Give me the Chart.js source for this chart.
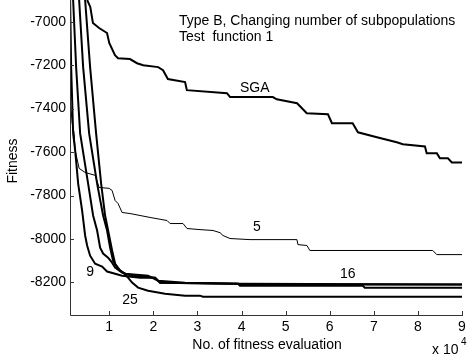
<!DOCTYPE html>
<html>
<head>
<meta charset="utf-8">
<script src="https://cdn.jsdelivr.net/npm/chart.js@4"></script>
<style>
html, body { margin: 0; padding: 0; background: #fff; }
#wrap { width: 470px; height: 356px; }
</style>
</head>
<body>
<div id="wrap"><canvas id="chart" width="470" height="356"></canvas></div>
<script>
// values in units of 10^4 evaluations / fitness
const xTicks = [1, 2, 3, 4, 5, 6, 7, 8, 9]
const yTicks = [-7000, -7200, -7400, -7600, -7800, -8000, -8200]

const sgaX = [0.50, 0.57, 0.63, 0.77, 0.95, 1.00, 1.13, 1.20, 1.47, 1.63, 1.77, 2.11, 2.22, 2.33, 2.72, 2.76, 3.67, 3.74, 4.71, 4.80, 5.26, 5.48, 5.96, 6.05, 6.52, 6.64, 7.07, 7.52, 7.66, 8.16, 8.20, 8.43, 8.50, 8.68, 8.77, 9.00]
const sgaY = [-6900, -6932, -7006, -7029, -7052, -7098, -7154, -7168, -7172, -7191, -7200, -7209, -7223, -7264, -7278, -7315, -7329, -7347, -7347, -7357, -7375, -7421, -7426, -7467, -7467, -7509, -7532, -7555, -7564, -7574, -7606, -7606, -7629, -7629, -7648, -7648]

const p5X = [0.113, 0.113, 0.159, 0.204, 0.227, 0.317, 0.453, 0.680, 0.770, 0.997, 1.065, 1.133, 1.201, 1.291, 1.473, 1.926, 2.311, 2.379, 2.673, 2.764, 3.058, 3.353, 3.512, 3.579, 3.738, 4.191, 5.256, 5.279, 5.483, 5.550, 8.337, 8.428, 9.0]
const p5Y = [-6900, -7348, -7467, -7514, -7592, -7675, -7694, -7707, -7763, -7767, -7777, -7823, -7837, -7878, -7883, -7901, -7915, -7929, -7929, -7952, -7957, -7961, -7971, -7984, -7998, -8003, -8003, -8026, -8030, -8053, -8053, -8072, -8072]

const p9X = [0.113, 0.136, 0.181, 0.227, 0.295, 0.385, 0.453, 0.498, 0.566, 0.680, 0.838, 0.951, 1.133, 1.291, 1.699, 2.039, 2.152, 3.919, 3.965, 9]
const p9Y = [-6900, -7209, -7514, -7592, -7745, -7870, -7984, -8030, -8077, -8114, -8127, -8150, -8160, -8169, -8178, -8178, -8201, -8206, -8210, -8210]

const p16X = [0.181, 0.249, 0.340, 0.521, 0.634, 0.725, 0.793, 0.861, 0.974, 1.065, 1.133, 1.291, 1.518, 2.039, 2.152, 3.919, 3.965, 6.751, 6.796, 9]
const p16Y = [-6900, -7209, -7514, -7745, -7892, -7961, -8040, -8067, -8086, -8109, -8132, -8155, -8169, -8178, -8201, -8206, -8215, -8215, -8224, -8224]

const p25X = [0.317, 0.408, 0.544, 0.725, 0.861, 0.951, 1.019, 1.087, 1.201, 1.314, 1.427, 1.518, 1.654, 1.880, 2.266, 2.719, 3.058, 3.126, 9]
const p25Y = [-6900, -7209, -7514, -7745, -7892, -7961, -8040, -8100, -8137, -8155, -8178, -8201, -8224, -8238, -8252, -8261, -8261, -8266, -8266]

const p4X = [0.453, 0.566, 0.702, 0.816, 0.906, 0.974, 1.065, 1.133, 1.246, 1.359, 1.880, 2.107, 2.719, 3.919, 9]
const p4Y = [-6900, -7209, -7514, -7745, -7892, -7961, -8053, -8114, -8146, -8160, -8169, -8192, -8201, -8206, -8210]

const curveLabels = ["SGA", "5", "16", "9", "25"]
const labelX = [4.30, 4.35, 6.41, 0.566, 1.47]
const labelY = [-7306, -7947, -8164, -8155, -8280]

function pts(xs, ys) {
    return xs.map((x, i) => ({x: x, y: ys[i]}))
}

function line(label, xs, ys, w) {
    return {
        label: label,
        data: pts(xs, ys),
        borderColor: "#000",
        borderWidth: w,
        pointRadius: 0,
        tension: 0,
        fill: false
    }
}

const FAMILY = "'Liberation Sans', Arial, sans-serif"
const FONT = "14px " + FAMILY

// MATLAB style: inward ticks, text on the plot
const decorations = {
    id: "decorations",
    afterDraw(chart) {
        const ctx = chart.ctx
        const xs = chart.scales.x, ys = chart.scales.y
        const a = chart.chartArea
        ctx.save()
        ctx.strokeStyle = "#333"
        ctx.lineWidth = 1
        ctx.beginPath()
        ctx.moveTo(a.left + 0.5, a.top)
        ctx.lineTo(a.left + 0.5, a.bottom + 0.5)
        ctx.lineTo(a.right + 1, a.bottom + 0.5)
        xTicks.forEach(v => {
            const px = Math.round(xs.getPixelForValue(v)) + 0.5
            ctx.moveTo(px, a.bottom)
            ctx.lineTo(px, a.bottom - 4)
        })
        yTicks.forEach(v => {
            const py = Math.round(ys.getPixelForValue(v)) + 0.5
            ctx.moveTo(a.left, py)
            ctx.lineTo(a.left + 4, py)
        })
        ctx.stroke()

        ctx.fillStyle = "#000"
        ctx.font = FONT
        ctx.textBaseline = "middle"
        ctx.textAlign = "center"
        curveLabels.forEach((t, i) => {
            ctx.fillText(t, xs.getPixelForValue(labelX[i]), ys.getPixelForValue(labelY[i]))
        })

        ctx.textAlign = "left"
        ctx.fillText("Type B, Changing number of subpopulations", 179, 21)
        ctx.fillText("Test  function 1", 179, 37)

        ctx.textAlign = "center"
        ctx.fillText("No. of fitness evaluation", 267, 345)
        ctx.textAlign = "left"
        ctx.fillText("x 10", 432, 350)
        ctx.font = "10px " + FAMILY
        ctx.fillText("4", 461, 342)

        ctx.font = FONT
        ctx.translate(13, 161)
        ctx.rotate(-Math.PI / 2)
        ctx.textAlign = "center"
        ctx.fillText("Fitness", 0, 0)
        ctx.restore()
    }
}

const bg = {
    id: "bg",
    beforeDraw(chart) {
        const ctx = chart.ctx
        ctx.save()
        ctx.fillStyle = "#fff"
        ctx.fillRect(0, 0, chart.width, chart.height)
        ctx.restore()
    }
}

new Chart("chart", {
    type: "line",
    data: {
        datasets: [
            line("SGA", sgaX, sgaY, 2),
            line("5", p5X, p5Y, 1),
            line("9", p9X, p9Y, 2),
            line("16", p16X, p16Y, 2),
            line("25", p25X, p25Y, 2),
            line("other", p4X, p4Y, 2)
        ]
    },
    options: {
        responsive: false,
        animation: false,
        layout: {padding: {left: 0, right: 8, top: 0, bottom: 0}},
        plugins: {legend: {display: false}, tooltip: {enabled: false}},
        scales: {
            x: {
                type: "linear",
                min: 0.11,
                max: 9,
                afterBuildTicks: s => { s.ticks = xTicks.map(v => ({value: v})) },
                afterFit: s => { s.height = 41; s.paddingLeft = 0; s.paddingRight = 0 },
                grid: {display: false, drawTicks: false},
                border: {display: false},
                ticks: {color: "#000", font: {family: FAMILY, size: 14}, padding: 4, maxRotation: 0}
            },
            y: {
                type: "linear",
                min: -8350,
                max: -6900,
                afterBuildTicks: s => { s.ticks = yTicks.map(v => ({value: v})) },
                afterFit: s => { s.width = 70; s.paddingTop = 0; s.paddingBottom = 0 },
                grid: {display: false, drawTicks: false},
                border: {display: false},
                ticks: {color: "#000", font: {family: FAMILY, size: 14}, padding: 4,
                        callback: v => String(v)}
            }
        }
    },
    plugins: [bg, decorations]
})
</script>
</body>
</html>
